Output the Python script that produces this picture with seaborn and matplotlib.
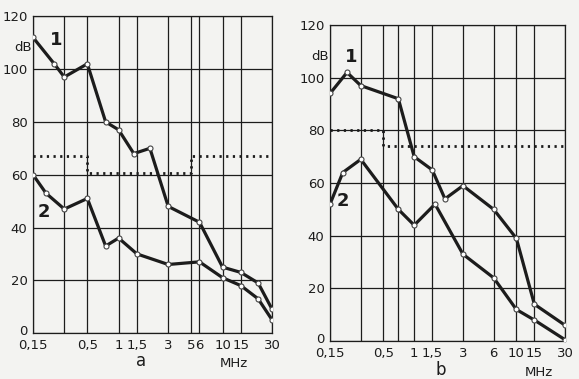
import pandas as pd
import matplotlib
matplotlib.use('Agg')
import matplotlib.pyplot as plt
import matplotlib.transforms as mtransforms
import seaborn as sns

# --- data (frequency in MHz, level in dB) ---
# panel a
a_freq_1 = [0.15, 0.24, 0.3, 0.5, 0.75, 1, 1.4, 2, 3, 6, 10, 15, 22, 30]
a_level_1 = [112, 102, 97, 102, 80, 77, 68, 70, 48, 42, 25, 23, 19, 9]
a_freq_2 = [0.15, 0.2, 0.3, 0.5, 0.75, 1, 1.5, 3, 6, 10, 15, 22, 30]
a_level_2 = [60, 53, 47, 51, 33, 36, 30, 26, 27, 21, 18, 13, 5]
a_limit_freq = [0.15, 0.5, 5, 30]
a_limit_level = [67, 60.5, 67, 67]

# panel b
b_freq_1 = [0.15, 0.22, 0.3, 0.7, 1, 1.5, 2, 3, 6, 10, 15, 30]
b_level_1 = [94, 102, 97, 92, 70, 65, 54, 59, 50, 39, 14, 6]
b_freq_2 = [0.15, 0.2, 0.3, 0.7, 1, 1.6, 3, 6, 10, 15, 30]
b_level_2 = [52, 64, 69, 50, 44, 52, 33, 24, 12, 8, 0.5]
b_limit_freq = [0.15, 0.5, 30]
b_limit_level = [80, 74, 74]

a_ticks = [0.15, 0.3, 0.5, 1, 1.5, 3, 5, 6, 10, 15, 30]
a_tick_labels = ['0,15', '', '0,5', '1', '1,5', '3', '5', '6', '10', '15', '30']
b_ticks = [0.15, 0.3, 0.5, 0.7, 1, 1.5, 3, 6, 10, 15, 30]
b_tick_labels = ['0,15', '', '0,5', '', '1', '1,5', '3', '6', '10', '15', '30']
y_ticks = [0, 20, 40, 60, 80, 100, 120]

sns.set_style('white')
plt.rcParams['font.family'] = ['DejaVu Sans']

paper = '#f3f3f1'
ink = '#1c1c1c'

fig = plt.figure(figsize=(5.79, 3.79), dpi=100, facecolor=paper)
ax_a = fig.add_axes([0.057, 0.121, 0.413, 0.836])
ax_b = fig.add_axes([0.570, 0.100, 0.406, 0.834])


def draw_panel(ax, curves, limit, ticks, tick_labels, letter, lab1, lab2):
    ax.set_facecolor(paper)
    for f, lv in curves:
        df = pd.DataFrame({'f': f, 'dB': lv})
        sns.lineplot(data=df, x='f', y='dB', ax=ax, color=ink, lw=2.3,
                     marker='o', markersize=3.6, markerfacecolor='white',
                     markeredgecolor='#444444', markeredgewidth=0.8,
                     sort=False, zorder=3)
    lim = pd.DataFrame({'f': limit[0], 'dB': limit[1]})
    sns.lineplot(data=lim, x='f', y='dB', ax=ax, color=ink, lw=2.0,
                 linestyle=(0, (0.8, 1.6)), drawstyle='steps-post',
                 sort=False, zorder=2)

    ax.set_xscale('log')
    ax.set_xlim(0.15, 30)
    ax.set_ylim(0, 120)
    ax.set_xticks(ticks)
    ax.set_xticklabels(tick_labels)
    ax.xaxis.set_minor_locator(matplotlib.ticker.NullLocator())
    ax.set_yticks(y_ticks)
    ax.set_xlabel('')
    ax.set_ylabel('')
    ax.grid(True, color=ink, lw=0.9)
    for s in ax.spines.values():
        s.set_color(ink)
        s.set_linewidth(0.9)
    ax.tick_params(axis='both', direction='out', length=3, width=0.9,
                   color=ink, labelsize=9.5, labelcolor=ink, pad=1)
    # lift the "0" a few pixels so it sits clear of "0,15"
    zero = ax.get_yticklabels()[0]
    zero.set_transform(zero.get_transform() +
                       mtransforms.ScaledTranslation(0, 3 / 100, fig.dpi_scale_trans))

    ax.text(-0.005, 108, 'dB', transform=ax.get_yaxis_transform(),
            ha='right', va='center', fontsize=9.5, color=ink)
    ax.text(lab1[0], lab1[1], '1', transform=ax.get_yaxis_transform(),
            ha='center', va='center', fontsize=13, fontweight='bold', color=ink)
    ax.text(lab2[0], lab2[1], '2', transform=ax.get_yaxis_transform(),
            ha='center', va='center', fontsize=13, fontweight='bold', color=ink)
    ax.text(letter[0], letter[1], letter[2], transform=ax.transAxes,
            ha='center', va='center', fontsize=12, color=ink)
    ax.text(letter[3], letter[4], 'MHz', transform=ax.transAxes,
            ha='center', va='center', fontsize=9.5, color=ink)


draw_panel(ax_a, [(a_freq_1, a_level_1), (a_freq_2, a_level_2)],
           (a_limit_freq, a_limit_level), a_ticks, a_tick_labels,
           (0.45, -0.088, 'a', 0.84, -0.095), (0.095, 111), (0.045, 46))
draw_panel(ax_b, [(b_freq_1, b_level_1), (b_freq_2, b_level_2)],
           (b_limit_freq, b_limit_level), b_ticks, b_tick_labels,
           (0.47, -0.092, 'b', 0.89, -0.10), (0.09, 108), (0.055, 53))

fig.savefig('out.png', dpi=100, facecolor=paper)
